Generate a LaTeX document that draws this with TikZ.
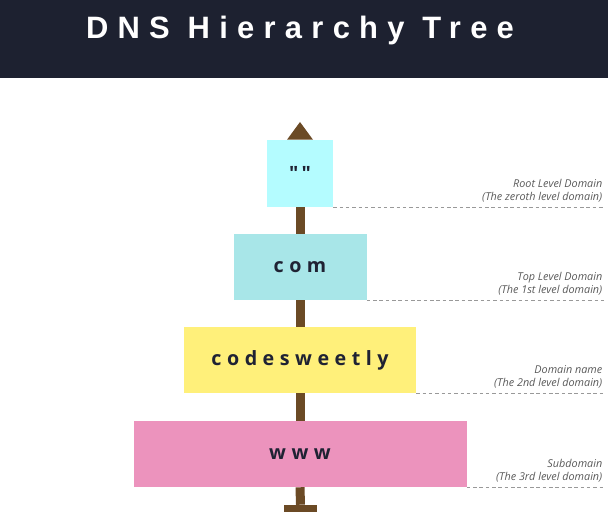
\documentclass[tikz,border=0pt]{standalone}
\usepackage{fontspec}
\setmainfont{Open Sans}
\newfontfamily\titlefont[LetterSpace=30]{Liberation Sans}
\newfontfamily\boxfont[LetterSpace=28]{Open Sans}
\usepackage{tikz}
\usetikzlibrary{calc}
\definecolor{headbg}{HTML}{1D2130}
\definecolor{bark}{HTML}{6B4A25}
\definecolor{inkdark}{HTML}{1F2233}
\definecolor{rootcol}{HTML}{B4FCFF}
\definecolor{tldcol}{HTML}{A8E6E8}
\definecolor{sldcol}{HTML}{FFF07A}
\definecolor{subcol}{HTML}{EC93BD}
\tikzstyle{levelbox} = [rectangle,minimum height=1.65cm,text centered,inner sep=0pt,text=inkdark,font=\boxfont\bfseries\fontsize{14}{16}\selectfont]
\tikzstyle{levelnote} = [align=right,anchor=south east,inner sep=1pt,text=black!65,font=\itshape\fontsize{7.7}{9.2}\selectfont]
\tikzstyle{guide} = [black!40,line width=0.5pt,dash pattern=on 2.5pt off 2pt]
\tikzstyle{trunk} = [bark,line width=0.225cm]
\begin{document}
\begin{tikzpicture}
\useasboundingbox (0,0) rectangle (15.2,13.275);

% header
\fill[headbg] (0,11.325) rectangle (15.2,13.275);
\node (title) [xshift=7.5cm,yshift=12.5cm,text=white,font=\titlefont\bfseries\fontsize{22}{25}\selectfont] {DNS Hierarchy Tree};

% levels, 1px = 0.025cm
\node (root) [levelbox,fill=rootcol,minimum width=1.65cm,minimum height=1.675cm,xshift=7.5cm,yshift=8.9375cm] {"\,"};
\node (tld)  [levelbox,fill=tldcol,minimum width=3.325cm,xshift=7.5cm,yshift=6.6cm] {com};
\node (sld)  [levelbox,fill=sldcol,minimum width=5.8cm,xshift=7.5cm,yshift=4.275cm] {codesweetly};
\node (sub)  [levelbox,fill=subcol,minimum width=8.325cm,xshift=7.5cm,yshift=1.925cm] {www};

\node (foot) [rectangle,fill=bark,minimum width=0.825cm,minimum height=0.175cm,inner sep=0pt,xshift=7.5125cm,yshift=0.5625cm] {};
\coordinate (tip) at (7.5,10.225);
\coordinate (edge) at (15.1,0);

\fill[bark] (tip) -- ($(root.north)+(-0.325,0)$) -- ($(root.north)+(0.325,0)$) -- cycle;
\draw[trunk] (root.south) -- (tld.north);
\draw[trunk] (tld.south) -- (sld.north);
\draw[trunk] (sld.south) -- (sub.north);
\draw[trunk] (sub.south) -- (foot.north);

\draw[guide] (root.south east) -- (root.south east -| edge);
\draw[guide] (tld.south east) -- (tld.south east -| edge);
\draw[guide] (sld.south east) -- (sld.south east -| edge);
\draw[guide] (sub.south east) -- (sub.south east -| edge);

\node (rootnote) [levelnote] at ($(root.south east -| edge)+(0,0.08)$) {Root Level Domain\\(The zeroth level domain)};
\node (tldnote)  [levelnote] at ($(tld.south east -| edge)+(0,0.08)$) {Top Level Domain\\(The 1st level domain)};
\node (sldnote)  [levelnote] at ($(sld.south east -| edge)+(0,0.08)$) {Domain name\\(The 2nd level domain)};
\node (subnote)  [levelnote] at ($(sub.south east -| edge)+(0,0.08)$) {Subdomain\\(The 3rd level domain)};
\end{tikzpicture}
\end{document}
